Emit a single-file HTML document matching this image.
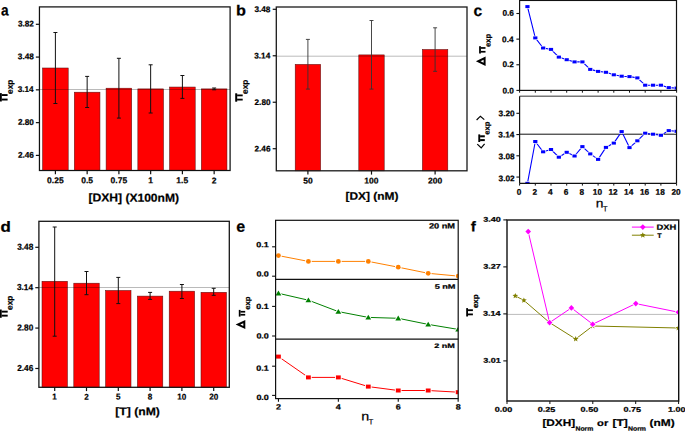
<!DOCTYPE html><html><head><meta charset="utf-8"><style>html,body{margin:0;padding:0;background:#fff;overflow:hidden}svg{display:block}text{font-kerning:none}</style></head><body>
<svg width="685" height="431" viewBox="0 0 685 431" font-family='"Liberation Sans", sans-serif'>
<rect width="685" height="431" fill="#fff"/>
<rect x="42.6" y="68" width="25.6" height="102.5" fill="#ff0000" stroke="#5a1010" stroke-width="0.55"/>
<rect x="74.35" y="92.2" width="25.6" height="78.3" fill="#ff0000" stroke="#5a1010" stroke-width="0.55"/>
<rect x="106.1" y="88.2" width="25.6" height="82.3" fill="#ff0000" stroke="#5a1010" stroke-width="0.55"/>
<rect x="137.85" y="88.9" width="25.6" height="81.6" fill="#ff0000" stroke="#5a1010" stroke-width="0.55"/>
<rect x="169.6" y="87.05" width="25.6" height="83.45" fill="#ff0000" stroke="#5a1010" stroke-width="0.55"/>
<rect x="201.35" y="88.9" width="25.6" height="81.6" fill="#ff0000" stroke="#5a1010" stroke-width="0.55"/>
<line x1="39.45" y1="89.5" x2="230.1" y2="89.5" stroke="#000" stroke-width="1.0" stroke-opacity="0.27"/>
<line x1="55.4" y1="32.5" x2="55.4" y2="103.5" stroke="#111" stroke-width="1.0" />
<line x1="53.4" y1="32.5" x2="57.4" y2="32.5" stroke="#111" stroke-width="1.0" />
<line x1="53.4" y1="103.5" x2="57.4" y2="103.5" stroke="#111" stroke-width="1.0" />
<line x1="87.15" y1="76.4" x2="87.15" y2="107.5" stroke="#111" stroke-width="1.0" />
<line x1="85.15" y1="76.4" x2="89.15" y2="76.4" stroke="#111" stroke-width="1.0" />
<line x1="85.15" y1="107.5" x2="89.15" y2="107.5" stroke="#111" stroke-width="1.0" />
<line x1="118.9" y1="58.3" x2="118.9" y2="118.1" stroke="#111" stroke-width="1.0" />
<line x1="116.9" y1="58.3" x2="120.9" y2="58.3" stroke="#111" stroke-width="1.0" />
<line x1="116.9" y1="118.1" x2="120.9" y2="118.1" stroke="#111" stroke-width="1.0" />
<line x1="150.65" y1="64.8" x2="150.65" y2="113" stroke="#111" stroke-width="1.0" />
<line x1="148.65" y1="64.8" x2="152.65" y2="64.8" stroke="#111" stroke-width="1.0" />
<line x1="148.65" y1="113" x2="152.65" y2="113" stroke="#111" stroke-width="1.0" />
<line x1="182.4" y1="75.5" x2="182.4" y2="98.4" stroke="#111" stroke-width="1.0" />
<line x1="180.4" y1="75.5" x2="184.4" y2="75.5" stroke="#111" stroke-width="1.0" />
<line x1="180.4" y1="98.4" x2="184.4" y2="98.4" stroke="#111" stroke-width="1.0" />
<line x1="214.15" y1="88" x2="214.15" y2="89.8" stroke="#111" stroke-width="1.0" />
<line x1="212.15" y1="88" x2="216.15" y2="88" stroke="#111" stroke-width="1.0" />
<line x1="212.15" y1="89.8" x2="216.15" y2="89.8" stroke="#111" stroke-width="1.0" />
<rect x="39.45" y="6.9" width="190.65" height="163.6" fill="none" stroke="#111" stroke-width="1.25"/>
<line x1="35.85" y1="24.3" x2="39.45" y2="24.3" stroke="#111" stroke-width="1.2" />
<text transform="rotate(0.15,25.862,23.700) translate(17.936,26.551) scale(0.990,1)" font-size="8.30" font-weight="bold" fill="#000" stroke="#000" stroke-width="0.22">3.82</text>
<line x1="35.85" y1="57.08" x2="39.45" y2="57.08" stroke="#111" stroke-width="1.2" />
<text transform="rotate(0.15,25.824,56.476) translate(17.860,59.327) scale(0.990,1)" font-size="8.30" font-weight="bold" fill="#000" stroke="#000" stroke-width="0.22">3.48</text>
<line x1="35.85" y1="89.85" x2="39.45" y2="89.85" stroke="#111" stroke-width="1.2" />
<text transform="rotate(0.15,25.720,89.252) translate(17.651,92.103) scale(0.990,1)" font-size="8.30" font-weight="bold" fill="#000" stroke="#000" stroke-width="0.22">3.14</text>
<line x1="35.85" y1="122.63" x2="39.45" y2="122.63" stroke="#111" stroke-width="1.2" />
<text transform="rotate(0.15,25.915,122.028) translate(17.944,124.885) scale(0.990,1)" font-size="8.30" font-weight="bold" fill="#000" stroke="#000" stroke-width="0.22">2.80</text>
<line x1="35.85" y1="155.4" x2="39.45" y2="155.4" stroke="#111" stroke-width="1.2" />
<text transform="rotate(0.15,25.895,154.804) translate(17.904,157.661) scale(0.990,1)" font-size="8.30" font-weight="bold" fill="#000" stroke="#000" stroke-width="0.22">2.46</text>
<line x1="55.4" y1="170.5" x2="55.4" y2="174.3" stroke="#111" stroke-width="1.2" />
<text transform="rotate(0.15,55.400,180.400) translate(47.065,183.360) scale(0.990,1)" font-size="8.60" font-weight="bold" fill="#000" stroke="#000" stroke-width="0.22">0.25</text>
<line x1="87.15" y1="170.5" x2="87.15" y2="174.3" stroke="#111" stroke-width="1.2" />
<text transform="rotate(0.15,87.150,180.400) translate(81.182,183.360) scale(0.990,1)" font-size="8.60" font-weight="bold" fill="#000" stroke="#000" stroke-width="0.22">0.5</text>
<line x1="118.9" y1="170.5" x2="118.9" y2="174.3" stroke="#111" stroke-width="1.2" />
<text transform="rotate(0.15,118.900,180.400) translate(110.565,183.360) scale(0.990,1)" font-size="8.60" font-weight="bold" fill="#000" stroke="#000" stroke-width="0.22">0.75</text>
<line x1="150.65" y1="170.5" x2="150.65" y2="174.3" stroke="#111" stroke-width="1.2" />
<text transform="rotate(0.15,150.650,180.400) translate(148.133,183.358) scale(0.990,1)" font-size="8.60" font-weight="bold" fill="#000" stroke="#000" stroke-width="0.22">1</text>
<line x1="182.4" y1="170.5" x2="182.4" y2="174.3" stroke="#111" stroke-width="1.2" />
<text transform="rotate(0.15,182.400,180.400) translate(176.333,183.316) scale(0.990,1)" font-size="8.60" font-weight="bold" fill="#000" stroke="#000" stroke-width="0.22">1.5</text>
<line x1="214.15" y1="170.5" x2="214.15" y2="174.3" stroke="#111" stroke-width="1.2" />
<text transform="rotate(0.15,214.150,180.400) translate(211.805,183.402) scale(0.990,1)" font-size="8.60" font-weight="bold" fill="#000" stroke="#000" stroke-width="0.22">2</text>
<text transform="rotate(0.15,133.900,198.689) translate(88.541,201.680) scale(1.044,1)" font-size="11.57" font-weight="bold" fill="#000" stroke="#000" stroke-width="0.22">[DXH] (X100nM)</text>
<text transform="rotate(0.15,5.115,11.500) translate(1.069,15.627) scale(0.875,1)" font-size="15.62" font-weight="bold" fill="#000" stroke="#000" stroke-width="0.22">a</text>
<rect x="-0.1" y="93.1" width="1.9" height="8.4" fill="#000"/>
<rect x="1.7" y="94.1" width="5.9" height="1.9" fill="#000"/>
<rect x="1.7" y="98.6" width="5.9" height="1.9" fill="#000"/>
<text transform="rotate(-0.15,11.422,86.757) translate(12.800,93.900) rotate(-90) scale(1.000,1)" font-size="8.30" font-weight="bold" fill="#000" stroke="#000" stroke-width="0.22">exp</text>
<rect x="295.2" y="64.4" width="25.4" height="106.4" fill="#ff0000" stroke="#5a1010" stroke-width="0.55"/>
<rect x="358.8" y="54.9" width="25.4" height="115.9" fill="#ff0000" stroke="#5a1010" stroke-width="0.55"/>
<rect x="422.4" y="49.5" width="25.4" height="121.3" fill="#ff0000" stroke="#5a1010" stroke-width="0.55"/>
<line x1="276.3" y1="56.2" x2="467" y2="56.2" stroke="#000" stroke-width="1.0" stroke-opacity="0.27"/>
<line x1="307.9" y1="39.4" x2="307.9" y2="89.1" stroke="#333" stroke-width="0.9" />
<line x1="305.9" y1="39.4" x2="309.9" y2="39.4" stroke="#333" stroke-width="0.9" />
<line x1="305.9" y1="89.1" x2="309.9" y2="89.1" stroke="#333" stroke-width="0.9" />
<line x1="371.5" y1="20.5" x2="371.5" y2="89.1" stroke="#333" stroke-width="0.9" />
<line x1="369.5" y1="20.5" x2="373.5" y2="20.5" stroke="#333" stroke-width="0.9" />
<line x1="369.5" y1="89.1" x2="373.5" y2="89.1" stroke="#333" stroke-width="0.9" />
<line x1="435.1" y1="27.8" x2="435.1" y2="71.3" stroke="#333" stroke-width="0.9" />
<line x1="433.1" y1="27.8" x2="437.1" y2="27.8" stroke="#333" stroke-width="0.9" />
<line x1="433.1" y1="71.3" x2="437.1" y2="71.3" stroke="#333" stroke-width="0.9" />
<rect x="276.3" y="7" width="190.7" height="163.8" fill="none" stroke="#1a1a1a" stroke-width="1.3"/>
<line x1="272.7" y1="9.3" x2="276.3" y2="9.3" stroke="#111" stroke-width="1.2" />
<text transform="rotate(0.15,262.440,9.300) translate(254.493,12.117) scale(1.000,1)" font-size="8.20" font-weight="bold" fill="#000" stroke="#000" stroke-width="0.22">3.48</text>
<line x1="272.7" y1="55.77" x2="276.3" y2="55.77" stroke="#111" stroke-width="1.2" />
<text transform="rotate(0.15,262.336,55.771) translate(254.284,58.588) scale(1.000,1)" font-size="8.20" font-weight="bold" fill="#000" stroke="#000" stroke-width="0.22">3.14</text>
<line x1="272.7" y1="102.24" x2="276.3" y2="102.24" stroke="#111" stroke-width="1.2" />
<text transform="rotate(0.15,262.531,102.242) translate(254.577,105.065) scale(1.000,1)" font-size="8.20" font-weight="bold" fill="#000" stroke="#000" stroke-width="0.22">2.80</text>
<line x1="272.7" y1="148.71" x2="276.3" y2="148.71" stroke="#111" stroke-width="1.2" />
<text transform="rotate(0.15,262.510,148.714) translate(254.537,151.536) scale(1.000,1)" font-size="8.20" font-weight="bold" fill="#000" stroke="#000" stroke-width="0.22">2.46</text>
<line x1="307.9" y1="170.8" x2="307.9" y2="174.6" stroke="#111" stroke-width="1.2" />
<text transform="rotate(0.15,307.900,180.600) translate(303.235,183.457) scale(1.020,1)" font-size="8.30" font-weight="bold" fill="#000" stroke="#000" stroke-width="0.22">50</text>
<line x1="371.5" y1="170.8" x2="371.5" y2="174.6" stroke="#111" stroke-width="1.2" />
<text transform="rotate(0.15,371.500,180.600) translate(364.344,183.457) scale(1.020,1)" font-size="8.30" font-weight="bold" fill="#000" stroke="#000" stroke-width="0.22">100</text>
<line x1="435.1" y1="170.8" x2="435.1" y2="174.6" stroke="#111" stroke-width="1.2" />
<text transform="rotate(0.15,435.100,180.600) translate(428.064,183.457) scale(1.020,1)" font-size="8.30" font-weight="bold" fill="#000" stroke="#000" stroke-width="0.22">200</text>
<text transform="rotate(0.15,372.000,196.977) translate(345.450,199.780) scale(1.101,1)" font-size="10.84" font-weight="bold" fill="#000" stroke="#000" stroke-width="0.22">[DX] (nM)</text>
<text transform="rotate(0.15,241.200,10.320) translate(236.053,15.635) scale(1.089,1)" font-size="14.87" font-weight="bold" fill="#000" stroke="#000" stroke-width="0.22">b</text>
<rect x="235.2" y="93.3" width="2" height="8.4" fill="#000"/>
<rect x="237.1" y="94.5" width="5.6" height="1.8" fill="#000"/>
<rect x="237.1" y="98.7" width="5.6" height="1.8" fill="#000"/>
<text transform="rotate(-0.15,246.430,86.800) translate(247.800,93.900) rotate(-90) scale(1.000,1)" font-size="8.25" font-weight="bold" fill="#000" stroke="#000" stroke-width="0.22">exp</text>
<clipPath id="c1"><rect x="519.6" y="0.45" width="156.9" height="89.95"/></clipPath><g clip-path="url(#c1)">
<polyline points="527.45,6.6 535.3,37.9 543.15,48 551,49.4 558.85,57.1 566.7,59.7 574.55,61.9 582.4,61.9 590.25,69.4 598.1,71.4 605.95,72.3 613.8,74.8 621.65,76.2 629.5,76.6 637.35,77.9 645.2,85.2 653.05,85.2 660.9,85.2 668.75,87.6 676.6,88.1" fill="none" stroke="#0000ff" stroke-width="1.1" stroke-linejoin="round"/>
<rect x="524.75" y="4.5" width="5.4" height="4.2" fill="#fff"/>
<rect x="532.6" y="35.8" width="5.4" height="4.2" fill="#fff"/>
<rect x="540.45" y="45.9" width="5.4" height="4.2" fill="#fff"/>
<rect x="548.3" y="47.3" width="5.4" height="4.2" fill="#fff"/>
<rect x="556.15" y="55" width="5.4" height="4.2" fill="#fff"/>
<rect x="564" y="57.6" width="5.4" height="4.2" fill="#fff"/>
<rect x="571.85" y="59.8" width="5.4" height="4.2" fill="#fff"/>
<rect x="579.7" y="59.8" width="5.4" height="4.2" fill="#fff"/>
<rect x="587.55" y="67.3" width="5.4" height="4.2" fill="#fff"/>
<rect x="595.4" y="69.3" width="5.4" height="4.2" fill="#fff"/>
<rect x="603.25" y="70.2" width="5.4" height="4.2" fill="#fff"/>
<rect x="611.1" y="72.7" width="5.4" height="4.2" fill="#fff"/>
<rect x="618.95" y="74.1" width="5.4" height="4.2" fill="#fff"/>
<rect x="626.8" y="74.5" width="5.4" height="4.2" fill="#fff"/>
<rect x="634.65" y="75.8" width="5.4" height="4.2" fill="#fff"/>
<rect x="642.5" y="83.1" width="5.4" height="4.2" fill="#fff"/>
<rect x="650.35" y="83.1" width="5.4" height="4.2" fill="#fff"/>
<rect x="658.2" y="83.1" width="5.4" height="4.2" fill="#fff"/>
<rect x="666.05" y="85.5" width="5.4" height="4.2" fill="#fff"/>
<rect x="673.9" y="86" width="5.4" height="4.2" fill="#fff"/>
<rect x="525.35" y="5.1" width="4.2" height="3" fill="#0000ff"/>
<rect x="533.2" y="36.4" width="4.2" height="3" fill="#0000ff"/>
<rect x="541.05" y="46.5" width="4.2" height="3" fill="#0000ff"/>
<rect x="548.9" y="47.9" width="4.2" height="3" fill="#0000ff"/>
<rect x="556.75" y="55.6" width="4.2" height="3" fill="#0000ff"/>
<rect x="564.6" y="58.2" width="4.2" height="3" fill="#0000ff"/>
<rect x="572.45" y="60.4" width="4.2" height="3" fill="#0000ff"/>
<rect x="580.3" y="60.4" width="4.2" height="3" fill="#0000ff"/>
<rect x="588.15" y="67.9" width="4.2" height="3" fill="#0000ff"/>
<rect x="596" y="69.9" width="4.2" height="3" fill="#0000ff"/>
<rect x="603.85" y="70.8" width="4.2" height="3" fill="#0000ff"/>
<rect x="611.7" y="73.3" width="4.2" height="3" fill="#0000ff"/>
<rect x="619.55" y="74.7" width="4.2" height="3" fill="#0000ff"/>
<rect x="627.4" y="75.1" width="4.2" height="3" fill="#0000ff"/>
<rect x="635.25" y="76.4" width="4.2" height="3" fill="#0000ff"/>
<rect x="643.1" y="83.7" width="4.2" height="3" fill="#0000ff"/>
<rect x="650.95" y="83.7" width="4.2" height="3" fill="#0000ff"/>
<rect x="658.8" y="83.7" width="4.2" height="3" fill="#0000ff"/>
<rect x="666.65" y="86.1" width="4.2" height="3" fill="#0000ff"/>
<rect x="674.5" y="86.6" width="4.2" height="3" fill="#0000ff"/>
</g>
<rect x="519.6" y="0.45" width="156.9" height="89.95" fill="none" stroke="#111" stroke-width="1.2"/>
<line x1="516.4" y1="90.4" x2="519.6" y2="90.4" stroke="#111" stroke-width="1.1" />
<text transform="rotate(0.15,508.177,90.600) translate(502.427,93.423) scale(1.010,1)" font-size="8.20" font-weight="bold" fill="#000" stroke="#000" stroke-width="0.22">0.0</text>
<line x1="516.4" y1="64.77" x2="519.6" y2="64.77" stroke="#111" stroke-width="1.1" />
<text transform="rotate(0.15,508.173,64.300) translate(502.418,67.123) scale(1.010,1)" font-size="8.20" font-weight="bold" fill="#000" stroke="#000" stroke-width="0.22">0.2</text>
<line x1="516.4" y1="39.13" x2="519.6" y2="39.13" stroke="#111" stroke-width="1.1" />
<text transform="rotate(0.15,508.029,39.400) translate(502.131,42.223) scale(1.010,1)" font-size="8.20" font-weight="bold" fill="#000" stroke="#000" stroke-width="0.22">0.4</text>
<line x1="516.4" y1="13.5" x2="519.6" y2="13.5" stroke="#111" stroke-width="1.1" />
<text transform="rotate(0.15,508.157,12.950) translate(502.386,15.773) scale(1.010,1)" font-size="8.20" font-weight="bold" fill="#000" stroke="#000" stroke-width="0.22">0.6</text>
<line x1="519.6" y1="90.4" x2="519.6" y2="92.7" stroke="#111" stroke-width="1.0" />
<line x1="535.3" y1="90.4" x2="535.3" y2="92.7" stroke="#111" stroke-width="1.0" />
<line x1="551" y1="90.4" x2="551" y2="92.7" stroke="#111" stroke-width="1.0" />
<line x1="566.7" y1="90.4" x2="566.7" y2="92.7" stroke="#111" stroke-width="1.0" />
<line x1="582.4" y1="90.4" x2="582.4" y2="92.7" stroke="#111" stroke-width="1.0" />
<line x1="598.1" y1="90.4" x2="598.1" y2="92.7" stroke="#111" stroke-width="1.0" />
<line x1="613.8" y1="90.4" x2="613.8" y2="92.7" stroke="#111" stroke-width="1.0" />
<line x1="629.5" y1="90.4" x2="629.5" y2="92.7" stroke="#111" stroke-width="1.0" />
<line x1="645.2" y1="90.4" x2="645.2" y2="92.7" stroke="#111" stroke-width="1.0" />
<line x1="660.9" y1="90.4" x2="660.9" y2="92.7" stroke="#111" stroke-width="1.0" />
<line x1="676.6" y1="90.4" x2="676.6" y2="92.7" stroke="#111" stroke-width="1.0" />
<line x1="519.6" y1="134.2" x2="676.5" y2="134.2" stroke="#111" stroke-width="1.0" />
<clipPath id="c2"><rect x="519.6" y="96.2" width="156.9" height="87.1"/></clipPath><g clip-path="url(#c2)">
<polyline points="527.45,183.3 535.3,141.5 543.15,151.8 551,149.5 558.85,157.2 566.7,152.3 574.55,156 582.4,146.6 590.25,153.9 598.1,159.4 605.95,147.4 613.8,143.1 621.65,131.6 629.5,147.6 637.35,140.8 645.2,133.2 653.05,134.2 660.9,135.3 668.75,130.6 676.6,131.3" fill="none" stroke="#0000ff" stroke-width="1.1" stroke-linejoin="round"/>
<rect x="524.75" y="181.2" width="5.4" height="4.2" fill="#fff"/>
<rect x="532.6" y="139.4" width="5.4" height="4.2" fill="#fff"/>
<rect x="540.45" y="149.7" width="5.4" height="4.2" fill="#fff"/>
<rect x="548.3" y="147.4" width="5.4" height="4.2" fill="#fff"/>
<rect x="556.15" y="155.1" width="5.4" height="4.2" fill="#fff"/>
<rect x="564" y="150.2" width="5.4" height="4.2" fill="#fff"/>
<rect x="571.85" y="153.9" width="5.4" height="4.2" fill="#fff"/>
<rect x="579.7" y="144.5" width="5.4" height="4.2" fill="#fff"/>
<rect x="587.55" y="151.8" width="5.4" height="4.2" fill="#fff"/>
<rect x="595.4" y="157.3" width="5.4" height="4.2" fill="#fff"/>
<rect x="603.25" y="145.3" width="5.4" height="4.2" fill="#fff"/>
<rect x="611.1" y="141" width="5.4" height="4.2" fill="#fff"/>
<rect x="618.95" y="129.5" width="5.4" height="4.2" fill="#fff"/>
<rect x="626.8" y="145.5" width="5.4" height="4.2" fill="#fff"/>
<rect x="634.65" y="138.7" width="5.4" height="4.2" fill="#fff"/>
<rect x="642.5" y="131.1" width="5.4" height="4.2" fill="#fff"/>
<rect x="650.35" y="132.1" width="5.4" height="4.2" fill="#fff"/>
<rect x="658.2" y="133.2" width="5.4" height="4.2" fill="#fff"/>
<rect x="666.05" y="128.5" width="5.4" height="4.2" fill="#fff"/>
<rect x="673.9" y="129.2" width="5.4" height="4.2" fill="#fff"/>
<rect x="525.35" y="181.8" width="4.2" height="3" fill="#0000ff"/>
<rect x="533.2" y="140" width="4.2" height="3" fill="#0000ff"/>
<rect x="541.05" y="150.3" width="4.2" height="3" fill="#0000ff"/>
<rect x="548.9" y="148" width="4.2" height="3" fill="#0000ff"/>
<rect x="556.75" y="155.7" width="4.2" height="3" fill="#0000ff"/>
<rect x="564.6" y="150.8" width="4.2" height="3" fill="#0000ff"/>
<rect x="572.45" y="154.5" width="4.2" height="3" fill="#0000ff"/>
<rect x="580.3" y="145.1" width="4.2" height="3" fill="#0000ff"/>
<rect x="588.15" y="152.4" width="4.2" height="3" fill="#0000ff"/>
<rect x="596" y="157.9" width="4.2" height="3" fill="#0000ff"/>
<rect x="603.85" y="145.9" width="4.2" height="3" fill="#0000ff"/>
<rect x="611.7" y="141.6" width="4.2" height="3" fill="#0000ff"/>
<rect x="619.55" y="130.1" width="4.2" height="3" fill="#0000ff"/>
<rect x="627.4" y="146.1" width="4.2" height="3" fill="#0000ff"/>
<rect x="635.25" y="139.3" width="4.2" height="3" fill="#0000ff"/>
<rect x="643.1" y="131.7" width="4.2" height="3" fill="#0000ff"/>
<rect x="650.95" y="132.7" width="4.2" height="3" fill="#0000ff"/>
<rect x="658.8" y="133.8" width="4.2" height="3" fill="#0000ff"/>
<rect x="666.65" y="129.1" width="4.2" height="3" fill="#0000ff"/>
<rect x="674.5" y="129.8" width="4.2" height="3" fill="#0000ff"/>
</g>
<line x1="519.6" y1="96.2" x2="676.5" y2="96.2" stroke="#777" stroke-width="1.5" />
<line x1="519.6" y1="183.3" x2="676.5" y2="183.3" stroke="#111" stroke-width="1.2" />
<line x1="519.6" y1="96.2" x2="519.6" y2="183.3" stroke="#111" stroke-width="1.2" />
<line x1="676.5" y1="96.2" x2="676.5" y2="183.3" stroke="#111" stroke-width="1.2" />
<line x1="516.4" y1="113.3" x2="519.6" y2="113.3" stroke="#111" stroke-width="1.1" />
<text transform="rotate(0.15,506.605,113.500) translate(498.621,116.317) scale(1.010,1)" font-size="8.20" font-weight="bold" fill="#000" stroke="#000" stroke-width="0.22">3.20</text>
<line x1="516.4" y1="134.55" x2="519.6" y2="134.55" stroke="#111" stroke-width="1.1" />
<text transform="rotate(0.15,506.458,134.750) translate(498.325,137.567) scale(1.010,1)" font-size="8.20" font-weight="bold" fill="#000" stroke="#000" stroke-width="0.22">3.14</text>
<line x1="516.4" y1="155.8" x2="519.6" y2="155.8" stroke="#111" stroke-width="1.1" />
<text transform="rotate(0.15,506.563,156.400) translate(498.536,159.217) scale(1.010,1)" font-size="8.20" font-weight="bold" fill="#000" stroke="#000" stroke-width="0.22">3.08</text>
<line x1="516.4" y1="177.06" x2="519.6" y2="177.06" stroke="#111" stroke-width="1.1" />
<text transform="rotate(0.15,506.601,178.500) translate(498.612,181.317) scale(1.010,1)" font-size="8.20" font-weight="bold" fill="#000" stroke="#000" stroke-width="0.22">3.02</text>
<line x1="519.6" y1="183.3" x2="519.6" y2="185.6" stroke="#111" stroke-width="1.0" />
<text transform="rotate(0.15,519.000,191.950) translate(516.703,194.773) scale(1.010,1)" font-size="8.20" font-weight="bold" fill="#000" stroke="#000" stroke-width="0.22">0</text>
<line x1="535.3" y1="183.3" x2="535.3" y2="185.6" stroke="#111" stroke-width="1.0" />
<text transform="rotate(0.15,534.700,191.950) translate(532.419,194.813) scale(1.010,1)" font-size="8.20" font-weight="bold" fill="#000" stroke="#000" stroke-width="0.22">2</text>
<line x1="551" y1="183.3" x2="551" y2="185.6" stroke="#111" stroke-width="1.0" />
<text transform="rotate(0.15,550.400,191.950) translate(548.057,194.771) scale(1.010,1)" font-size="8.20" font-weight="bold" fill="#000" stroke="#000" stroke-width="0.22">4</text>
<line x1="566.7" y1="183.3" x2="566.7" y2="185.6" stroke="#111" stroke-width="1.0" />
<text transform="rotate(0.15,566.100,191.950) translate(563.795,194.773) scale(1.010,1)" font-size="8.20" font-weight="bold" fill="#000" stroke="#000" stroke-width="0.22">6</text>
<line x1="582.4" y1="183.3" x2="582.4" y2="185.6" stroke="#111" stroke-width="1.0" />
<text transform="rotate(0.15,581.800,191.950) translate(579.493,194.773) scale(1.010,1)" font-size="8.20" font-weight="bold" fill="#000" stroke="#000" stroke-width="0.22">8</text>
<line x1="598.1" y1="183.3" x2="598.1" y2="185.6" stroke="#111" stroke-width="1.0" />
<text transform="rotate(0.15,597.500,191.950) translate(592.803,194.773) scale(1.010,1)" font-size="8.20" font-weight="bold" fill="#000" stroke="#000" stroke-width="0.22">10</text>
<line x1="613.8" y1="183.3" x2="613.8" y2="185.6" stroke="#111" stroke-width="1.0" />
<text transform="rotate(0.15,613.200,191.950) translate(608.499,194.813) scale(1.010,1)" font-size="8.20" font-weight="bold" fill="#000" stroke="#000" stroke-width="0.22">12</text>
<line x1="629.5" y1="183.3" x2="629.5" y2="185.6" stroke="#111" stroke-width="1.0" />
<text transform="rotate(0.15,628.900,191.950) translate(624.055,194.771) scale(1.010,1)" font-size="8.20" font-weight="bold" fill="#000" stroke="#000" stroke-width="0.22">14</text>
<line x1="645.2" y1="183.3" x2="645.2" y2="185.6" stroke="#111" stroke-width="1.0" />
<text transform="rotate(0.15,644.600,191.950) translate(639.883,194.773) scale(1.010,1)" font-size="8.20" font-weight="bold" fill="#000" stroke="#000" stroke-width="0.22">16</text>
<line x1="660.9" y1="183.3" x2="660.9" y2="185.6" stroke="#111" stroke-width="1.0" />
<text transform="rotate(0.15,660.300,191.950) translate(655.560,194.773) scale(1.010,1)" font-size="8.20" font-weight="bold" fill="#000" stroke="#000" stroke-width="0.22">18</text>
<line x1="676.6" y1="183.3" x2="676.6" y2="185.6" stroke="#111" stroke-width="1.0" />
<text transform="rotate(0.15,676.000,191.950) translate(671.420,194.773) scale(1.010,1)" font-size="8.20" font-weight="bold" fill="#000" stroke="#000" stroke-width="0.22">20</text>
<text transform="rotate(0.15,599.650,204.200) translate(595.804,207.580) scale(1.098,1)" font-size="12.56" font-weight="normal" fill="#000" stroke="#000" stroke-width="0.22">n</text>
<text transform="rotate(0.15,605.300,208.900) translate(603.055,211.580) scale(0.944,1)" font-size="7.79" font-weight="normal" fill="#000" stroke="#000" stroke-width="0.22">T</text>
<text transform="rotate(0.15,478.050,11.800) translate(473.607,16.024) scale(0.982,1)" font-size="15.99" font-weight="bold" fill="#000" stroke="#000" stroke-width="0.22">c</text>
<path d="M475.9,61.3 L485.6,56.6 L485.6,66 Z M480.49,61.3 L483.6,59.79 L483.6,62.81 Z" fill="#000" fill-rule="evenodd"/>
<rect x="479.1" y="46.2" width="1.8" height="7.3" fill="#000"/>
<rect x="480.8" y="47.1" width="4.7" height="1.7" fill="#000"/>
<rect x="480.8" y="50.9" width="4.7" height="1.7" fill="#000"/>
<text transform="rotate(-0.15,489.238,40.359) translate(490.500,46.900) rotate(-90) scale(1.000,1)" font-size="7.60" font-weight="bold" fill="#000" stroke="#000" stroke-width="0.22">exp</text>
<rect x="478.3" y="134.4" width="1.9" height="7.6" fill="#000"/>
<rect x="480.1" y="135.3" width="4.7" height="2" fill="#000"/>
<rect x="480.1" y="139.1" width="4.7" height="2" fill="#000"/>
<text transform="rotate(-0.15,488.338,128.259) translate(489.600,134.800) rotate(-90) scale(1.000,1)" font-size="7.60" font-weight="bold" fill="#000" stroke="#000" stroke-width="0.22">exp</text>
<polyline points="476.6,120.0 480.4,116.2 484.3,119.6" fill="none" stroke="#000" stroke-width="1.2"/>
<polyline points="477.3,144.1 481.2,147.9 484.6,143.8" fill="none" stroke="#000" stroke-width="1.2"/>
<rect x="42" y="281.3" width="25.4" height="106" fill="#ff0000" stroke="#5a1010" stroke-width="0.55"/>
<rect x="73.8" y="283.2" width="25.4" height="104.1" fill="#ff0000" stroke="#5a1010" stroke-width="0.55"/>
<rect x="105.6" y="290.5" width="25.4" height="96.8" fill="#ff0000" stroke="#5a1010" stroke-width="0.55"/>
<rect x="137.4" y="296.1" width="25.4" height="91.2" fill="#ff0000" stroke="#5a1010" stroke-width="0.55"/>
<rect x="169.2" y="291.2" width="25.4" height="96.1" fill="#ff0000" stroke="#5a1010" stroke-width="0.55"/>
<rect x="201" y="292.3" width="25.4" height="95" fill="#ff0000" stroke="#5a1010" stroke-width="0.55"/>
<line x1="38.9" y1="287.5" x2="229.3" y2="287.5" stroke="#000" stroke-width="1.0" stroke-opacity="0.27"/>
<line x1="54.7" y1="227" x2="54.7" y2="336.2" stroke="#111" stroke-width="1.0" />
<line x1="52.7" y1="227" x2="56.7" y2="227" stroke="#111" stroke-width="1.0" />
<line x1="52.7" y1="336.2" x2="56.7" y2="336.2" stroke="#111" stroke-width="1.0" />
<line x1="86.5" y1="271.5" x2="86.5" y2="294.7" stroke="#111" stroke-width="1.0" />
<line x1="84.5" y1="271.5" x2="88.5" y2="271.5" stroke="#111" stroke-width="1.0" />
<line x1="84.5" y1="294.7" x2="88.5" y2="294.7" stroke="#111" stroke-width="1.0" />
<line x1="118.3" y1="277.4" x2="118.3" y2="303.6" stroke="#111" stroke-width="1.0" />
<line x1="116.3" y1="277.4" x2="120.3" y2="277.4" stroke="#111" stroke-width="1.0" />
<line x1="116.3" y1="303.6" x2="120.3" y2="303.6" stroke="#111" stroke-width="1.0" />
<line x1="150.1" y1="292.4" x2="150.1" y2="299.4" stroke="#111" stroke-width="1.0" />
<line x1="148.1" y1="292.4" x2="152.1" y2="292.4" stroke="#111" stroke-width="1.0" />
<line x1="148.1" y1="299.4" x2="152.1" y2="299.4" stroke="#111" stroke-width="1.0" />
<line x1="181.9" y1="284.5" x2="181.9" y2="298.5" stroke="#111" stroke-width="1.0" />
<line x1="179.9" y1="284.5" x2="183.9" y2="284.5" stroke="#111" stroke-width="1.0" />
<line x1="179.9" y1="298.5" x2="183.9" y2="298.5" stroke="#111" stroke-width="1.0" />
<line x1="213.7" y1="288.3" x2="213.7" y2="295.3" stroke="#111" stroke-width="1.0" />
<line x1="211.7" y1="288.3" x2="215.7" y2="288.3" stroke="#111" stroke-width="1.0" />
<line x1="211.7" y1="295.3" x2="215.7" y2="295.3" stroke="#111" stroke-width="1.0" />
<rect x="38.9" y="221.3" width="190.4" height="166" fill="none" stroke="#151515" stroke-width="1.3"/>
<line x1="35.3" y1="247.3" x2="38.9" y2="247.3" stroke="#111" stroke-width="1.2" />
<text transform="rotate(0.15,25.179,246.750) translate(17.168,249.739) scale(0.950,1)" font-size="8.70" font-weight="bold" fill="#000" stroke="#000" stroke-width="0.22">3.48</text>
<line x1="35.3" y1="287.69" x2="38.9" y2="287.69" stroke="#111" stroke-width="1.2" />
<text transform="rotate(0.15,25.074,287.142) translate(16.958,290.131) scale(0.950,1)" font-size="8.70" font-weight="bold" fill="#000" stroke="#000" stroke-width="0.22">3.14</text>
<line x1="35.3" y1="328.08" x2="38.9" y2="328.08" stroke="#111" stroke-width="1.2" />
<text transform="rotate(0.15,25.270,327.534) translate(17.253,330.529) scale(0.950,1)" font-size="8.70" font-weight="bold" fill="#000" stroke="#000" stroke-width="0.22">2.80</text>
<line x1="35.3" y1="368.48" x2="38.9" y2="368.48" stroke="#111" stroke-width="1.2" />
<text transform="rotate(0.15,25.250,367.926) translate(17.213,370.921) scale(0.950,1)" font-size="8.70" font-weight="bold" fill="#000" stroke="#000" stroke-width="0.22">2.46</text>
<line x1="54.7" y1="387.3" x2="54.7" y2="391.1" stroke="#111" stroke-width="1.2" />
<text transform="rotate(0.15,54.700,396.700) translate(52.313,399.624) scale(0.950,1)" font-size="8.50" font-weight="bold" fill="#000" stroke="#000" stroke-width="0.22">1</text>
<line x1="86.5" y1="387.3" x2="86.5" y2="391.1" stroke="#111" stroke-width="1.2" />
<text transform="rotate(0.15,86.500,396.700) translate(84.276,399.668) scale(0.950,1)" font-size="8.50" font-weight="bold" fill="#000" stroke="#000" stroke-width="0.22">2</text>
<line x1="118.3" y1="387.3" x2="118.3" y2="391.1" stroke="#111" stroke-width="1.2" />
<text transform="rotate(0.15,118.300,396.700) translate(116.043,399.582) scale(0.950,1)" font-size="8.50" font-weight="bold" fill="#000" stroke="#000" stroke-width="0.22">5</text>
<line x1="150.1" y1="387.3" x2="150.1" y2="391.1" stroke="#111" stroke-width="1.2" />
<text transform="rotate(0.15,150.100,396.700) translate(147.851,399.626) scale(0.950,1)" font-size="8.50" font-weight="bold" fill="#000" stroke="#000" stroke-width="0.22">8</text>
<line x1="181.9" y1="387.3" x2="181.9" y2="391.1" stroke="#111" stroke-width="1.2" />
<text transform="rotate(0.15,181.900,396.700) translate(177.320,399.626) scale(0.950,1)" font-size="8.50" font-weight="bold" fill="#000" stroke="#000" stroke-width="0.22">10</text>
<line x1="213.7" y1="387.3" x2="213.7" y2="391.1" stroke="#111" stroke-width="1.2" />
<text transform="rotate(0.15,213.700,396.700) translate(209.235,399.626) scale(0.950,1)" font-size="8.50" font-weight="bold" fill="#000" stroke="#000" stroke-width="0.22">20</text>
<text transform="rotate(0.15,137.600,412.401) translate(115.236,415.280) scale(1.094,1)" font-size="11.13" font-weight="bold" fill="#000" stroke="#000" stroke-width="0.22">[T] (nM)</text>
<text transform="rotate(0.15,5.520,226.550) translate(0.567,231.836) scale(1.143,1)" font-size="14.79" font-weight="bold" fill="#000" stroke="#000" stroke-width="0.22">d</text>
<rect x="-0.2" y="309.5" width="1.9" height="8.3" fill="#000"/>
<rect x="1.6" y="310.7" width="6.1" height="1.9" fill="#000"/>
<rect x="1.6" y="314.7" width="6.1" height="1.9" fill="#000"/>
<text transform="rotate(-0.15,11.172,302.757) translate(12.550,309.900) rotate(-90) scale(1.000,1)" font-size="8.30" font-weight="bold" fill="#000" stroke="#000" stroke-width="0.22">exp</text>
<clipPath id="c3"><rect x="275.6" y="220.3" width="182.6" height="59.1"/></clipPath><g clip-path="url(#c3)">
<polyline points="278.45,255.6 308.4,261.4 338.35,261.4 368.3,261.4 398.25,267.2 428.2,273.3 458.15,276.1" fill="none" stroke="#ff8000" stroke-width="1.0" stroke-linejoin="round"/>
<circle cx="278.45" cy="255.6" r="3.3" fill="#fff"/>
<circle cx="308.4" cy="261.4" r="3.3" fill="#fff"/>
<circle cx="338.35" cy="261.4" r="3.3" fill="#fff"/>
<circle cx="368.3" cy="261.4" r="3.3" fill="#fff"/>
<circle cx="398.25" cy="267.2" r="3.3" fill="#fff"/>
<circle cx="428.2" cy="273.3" r="3.3" fill="#fff"/>
<circle cx="458.15" cy="276.1" r="3.3" fill="#fff"/>
<circle cx="278.45" cy="255.6" r="2.4" fill="#ff8000"/>
<circle cx="308.4" cy="261.4" r="2.4" fill="#ff8000"/>
<circle cx="338.35" cy="261.4" r="2.4" fill="#ff8000"/>
<circle cx="368.3" cy="261.4" r="2.4" fill="#ff8000"/>
<circle cx="398.25" cy="267.2" r="2.4" fill="#ff8000"/>
<circle cx="428.2" cy="273.3" r="2.4" fill="#ff8000"/>
<circle cx="458.15" cy="276.1" r="2.4" fill="#ff8000"/>
</g>
<line x1="272.1" y1="246.8" x2="275.6" y2="246.8" stroke="#111" stroke-width="1.1" />
<line x1="272.1" y1="276.2" x2="275.6" y2="276.2" stroke="#111" stroke-width="1.1" />
<text transform="rotate(0.15,262.569,244.550) translate(256.283,247.166) scale(1.180,1)" font-size="7.60" font-weight="bold" fill="#000" stroke="#000" stroke-width="0.22">0.1</text>
<text transform="rotate(0.15,262.628,273.950) translate(256.401,276.566) scale(1.180,1)" font-size="7.60" font-weight="bold" fill="#000" stroke="#000" stroke-width="0.22">0.0</text>
<text transform="rotate(0.15,441.850,225.900) translate(428.900,228.506) scale(1.221,1)" font-size="7.57" font-weight="bold" fill="#000" stroke="#000" stroke-width="0.22">20 nM</text>
<clipPath id="c4"><rect x="275.6" y="279.4" width="182.6" height="59.7"/></clipPath><g clip-path="url(#c4)">
<polyline points="278.45,293.3 308.4,300.2 338.35,311.6 368.3,317.4 398.25,318.3 428.2,324.4 458.15,329.4" fill="none" stroke="#008000" stroke-width="1.0" stroke-linejoin="round"/>
<polygon points="274.02,296.3 282.88,296.3 278.45,288.8" fill="#fff"/>
<polygon points="303.97,303.2 312.83,303.2 308.4,295.7" fill="#fff"/>
<polygon points="333.92,314.6 342.78,314.6 338.35,307.1" fill="#fff"/>
<polygon points="363.87,320.4 372.73,320.4 368.3,312.9" fill="#fff"/>
<polygon points="393.82,321.3 402.68,321.3 398.25,313.8" fill="#fff"/>
<polygon points="423.77,327.4 432.63,327.4 428.2,319.9" fill="#fff"/>
<polygon points="453.72,332.4 462.58,332.4 458.15,324.9" fill="#fff"/>
<polygon points="275.55,295.4 281.35,295.4 278.45,290.6" fill="#008000"/>
<polygon points="305.5,302.3 311.3,302.3 308.4,297.5" fill="#008000"/>
<polygon points="335.45,313.7 341.25,313.7 338.35,308.9" fill="#008000"/>
<polygon points="365.4,319.5 371.2,319.5 368.3,314.7" fill="#008000"/>
<polygon points="395.35,320.4 401.15,320.4 398.25,315.6" fill="#008000"/>
<polygon points="425.3,326.5 431.1,326.5 428.2,321.7" fill="#008000"/>
<polygon points="455.25,331.5 461.05,331.5 458.15,326.7" fill="#008000"/>
</g>
<line x1="272.1" y1="306.4" x2="275.6" y2="306.4" stroke="#111" stroke-width="1.1" />
<line x1="272.1" y1="336" x2="275.6" y2="336" stroke="#111" stroke-width="1.1" />
<text transform="rotate(0.15,262.569,306.400) translate(256.283,309.016) scale(1.180,1)" font-size="7.60" font-weight="bold" fill="#000" stroke="#000" stroke-width="0.22">0.1</text>
<text transform="rotate(0.15,262.628,336.000) translate(256.401,338.616) scale(1.180,1)" font-size="7.60" font-weight="bold" fill="#000" stroke="#000" stroke-width="0.22">0.0</text>
<text transform="rotate(0.15,444.900,286.484) translate(434.638,288.716) scale(1.391,1)" font-size="6.58" font-weight="bold" fill="#000" stroke="#000" stroke-width="0.22">5 nM</text>
<clipPath id="c5"><rect x="275.6" y="339.1" width="182.6" height="59.5"/></clipPath><g clip-path="url(#c5)">
<polyline points="278.45,356.6 308.4,377.4 338.35,377.4 368.3,386.6 398.25,390.5 428.2,390.5 458.15,392.2" fill="none" stroke="#ff0000" stroke-width="1.0" stroke-linejoin="round"/>
<rect x="275.15" y="353.7" width="6.6" height="5.8" fill="#fff"/>
<rect x="305.1" y="374.5" width="6.6" height="5.8" fill="#fff"/>
<rect x="335.05" y="374.5" width="6.6" height="5.8" fill="#fff"/>
<rect x="365" y="383.7" width="6.6" height="5.8" fill="#fff"/>
<rect x="394.95" y="387.6" width="6.6" height="5.8" fill="#fff"/>
<rect x="424.9" y="387.6" width="6.6" height="5.8" fill="#fff"/>
<rect x="454.85" y="389.3" width="6.6" height="5.8" fill="#fff"/>
<rect x="276.05" y="354.6" width="4.8" height="4" fill="#ff0000"/>
<rect x="306" y="375.4" width="4.8" height="4" fill="#ff0000"/>
<rect x="335.95" y="375.4" width="4.8" height="4" fill="#ff0000"/>
<rect x="365.9" y="384.6" width="4.8" height="4" fill="#ff0000"/>
<rect x="395.85" y="388.5" width="4.8" height="4" fill="#ff0000"/>
<rect x="425.8" y="388.5" width="4.8" height="4" fill="#ff0000"/>
<rect x="455.75" y="390.2" width="4.8" height="4" fill="#ff0000"/>
</g>
<line x1="272.1" y1="366.2" x2="275.6" y2="366.2" stroke="#111" stroke-width="1.1" />
<line x1="272.1" y1="395.4" x2="275.6" y2="395.4" stroke="#111" stroke-width="1.1" />
<text transform="rotate(0.15,262.569,368.100) translate(256.283,370.716) scale(1.180,1)" font-size="7.60" font-weight="bold" fill="#000" stroke="#000" stroke-width="0.22">0.1</text>
<text transform="rotate(0.15,262.628,397.300) translate(256.401,399.916) scale(1.180,1)" font-size="7.60" font-weight="bold" fill="#000" stroke="#000" stroke-width="0.22">0.0</text>
<text transform="rotate(0.15,444.400,345.769) translate(434.205,348.017) scale(1.410,1)" font-size="6.44" font-weight="bold" fill="#000" stroke="#000" stroke-width="0.22">2 nM</text>
<rect x="275.6" y="220.3" width="182.6" height="178.3" fill="none" stroke="#111" stroke-width="1.2"/>
<line x1="275.6" y1="279.4" x2="458.2" y2="279.4" stroke="#111" stroke-width="1.2" />
<line x1="275.6" y1="339.1" x2="458.2" y2="339.1" stroke="#111" stroke-width="1.2" />
<line x1="278.45" y1="398.6" x2="278.45" y2="401.7" stroke="#111" stroke-width="1.1" />
<text transform="rotate(0.15,278.450,406.950) translate(275.980,409.603) scale(1.180,1)" font-size="7.60" font-weight="bold" fill="#000" stroke="#000" stroke-width="0.22">2</text>
<line x1="338.35" y1="398.6" x2="338.35" y2="401.7" stroke="#111" stroke-width="1.1" />
<text transform="rotate(0.15,338.350,406.950) translate(335.812,409.564) scale(1.180,1)" font-size="7.60" font-weight="bold" fill="#000" stroke="#000" stroke-width="0.22">4</text>
<line x1="398.25" y1="398.6" x2="398.25" y2="401.7" stroke="#111" stroke-width="1.1" />
<text transform="rotate(0.15,398.250,406.950) translate(395.754,409.566) scale(1.180,1)" font-size="7.60" font-weight="bold" fill="#000" stroke="#000" stroke-width="0.22">6</text>
<line x1="458.15" y1="398.6" x2="458.15" y2="401.7" stroke="#111" stroke-width="1.1" />
<text transform="rotate(0.15,458.150,406.950) translate(455.652,409.566) scale(1.180,1)" font-size="7.60" font-weight="bold" fill="#000" stroke="#000" stroke-width="0.22">8</text>
<text transform="rotate(0.15,365.250,417.200) translate(361.273,420.580) scale(1.136,1)" font-size="12.56" font-weight="normal" fill="#000" stroke="#000" stroke-width="0.22">n</text>
<text transform="rotate(0.15,371.100,421.800) translate(368.855,424.480) scale(0.944,1)" font-size="7.79" font-weight="normal" fill="#000" stroke="#000" stroke-width="0.22">T</text>
<text transform="rotate(0.15,240.700,227.700) translate(236.192,231.827) scale(1.028,1)" font-size="15.62" font-weight="bold" fill="#000" stroke="#000" stroke-width="0.22">e</text>
<path d="M235.6,324.55 L245.3,320 L245.3,329.1 Z M240.31,324.55 L243.3,323.15 L243.3,325.95 Z" fill="#000" fill-rule="evenodd"/>
<rect x="238.8" y="309.9" width="1.7" height="6.7" fill="#000"/>
<rect x="240.4" y="310.9" width="4.8" height="1.7" fill="#000"/>
<rect x="240.4" y="313.9" width="4.8" height="1.7" fill="#000"/>
<text transform="rotate(-0.15,248.755,303.266) translate(250.000,309.850) rotate(-90) scale(1.020,1)" font-size="7.50" font-weight="bold" fill="#000" stroke="#000" stroke-width="0.22">exp</text>
<line x1="507" y1="314.4" x2="678.7" y2="314.4" stroke="#000" stroke-width="1.0" stroke-opacity="0.27"/>
<clipPath id="c6"><rect x="507" y="220" width="171.7" height="181"/></clipPath><g clip-path="url(#c6)">
<polyline points="515.3,295.9 523.9,300.4 549.6,322.6 575.7,339 592.7,326 678.3,328" fill="none" stroke="#808000" stroke-width="1.0" stroke-linejoin="round"/>
<polygon points="515.3,291.78 516.39,294.4 519.22,294.63 517.06,296.47 517.72,299.23 515.3,297.75 512.88,299.23 513.54,296.47 511.38,294.63 514.21,294.4" fill="#fff"/>
<polygon points="523.9,296.28 524.99,298.9 527.82,299.13 525.66,300.97 526.32,303.73 523.9,302.25 521.48,303.73 522.14,300.97 519.98,299.13 522.81,298.9" fill="#fff"/>
<polygon points="549.6,318.48 550.69,321.1 553.52,321.33 551.36,323.17 552.02,325.93 549.6,324.45 547.18,325.93 547.84,323.17 545.68,321.33 548.51,321.1" fill="#fff"/>
<polygon points="575.7,334.88 576.79,337.5 579.62,337.73 577.46,339.57 578.12,342.33 575.7,340.85 573.28,342.33 573.94,339.57 571.78,337.73 574.61,337.5" fill="#fff"/>
<polygon points="592.7,321.88 593.79,324.5 596.62,324.73 594.46,326.57 595.12,329.33 592.7,327.85 590.28,329.33 590.94,326.57 588.78,324.73 591.61,324.5" fill="#fff"/>
<polygon points="678.3,323.88 679.39,326.5 682.22,326.73 680.06,328.57 680.72,331.33 678.3,329.85 675.88,331.33 676.54,328.57 674.38,326.73 677.21,326.5" fill="#fff"/>
<polygon points="515.3,292.9 516.09,294.81 518.15,294.97 516.58,296.32 517.06,298.33 515.3,297.25 513.54,298.33 514.02,296.32 512.45,294.97 514.51,294.81" fill="#808000"/>
<polygon points="523.9,297.4 524.69,299.31 526.75,299.47 525.18,300.82 525.66,302.83 523.9,301.75 522.14,302.83 522.62,300.82 521.05,299.47 523.11,299.31" fill="#808000"/>
<polygon points="549.6,319.6 550.39,321.51 552.45,321.67 550.88,323.02 551.36,325.03 549.6,323.95 547.84,325.03 548.32,323.02 546.75,321.67 548.81,321.51" fill="#808000"/>
<polygon points="575.7,336 576.49,337.91 578.55,338.07 576.98,339.42 577.46,341.43 575.7,340.35 573.94,341.43 574.42,339.42 572.85,338.07 574.91,337.91" fill="#808000"/>
<polygon points="592.7,323 593.49,324.91 595.55,325.07 593.98,326.42 594.46,328.43 592.7,327.35 590.94,328.43 591.42,326.42 589.85,325.07 591.91,324.91" fill="#808000"/>
<polygon points="678.3,325 679.09,326.91 681.15,327.07 679.58,328.42 680.06,330.43 678.3,329.35 676.54,330.43 677.02,328.42 675.45,327.07 677.51,326.91" fill="#808000"/>
<polyline points="528.2,231.6 549.6,322.6 571.4,307.9 592.7,324.2 635.8,303.6 678.3,312.2" fill="none" stroke="#ff00ff" stroke-width="1.0" stroke-linejoin="round"/>
<polygon points="524.42,231.6 528.2,227.82 531.98,231.6 528.2,235.38" fill="#fff"/>
<polygon points="545.82,322.6 549.6,318.82 553.38,322.6 549.6,326.38" fill="#fff"/>
<polygon points="567.62,307.9 571.4,304.12 575.18,307.9 571.4,311.68" fill="#fff"/>
<polygon points="588.92,324.2 592.7,320.42 596.48,324.2 592.7,327.98" fill="#fff"/>
<polygon points="632.02,303.6 635.8,299.82 639.58,303.6 635.8,307.38" fill="#fff"/>
<polygon points="674.52,312.2 678.3,308.42 682.08,312.2 678.3,315.98" fill="#fff"/>
<polygon points="525.4,231.6 528.2,228.8 531,231.6 528.2,234.4" fill="#ff00ff"/>
<polygon points="546.8,322.6 549.6,319.8 552.4,322.6 549.6,325.4" fill="#ff00ff"/>
<polygon points="568.6,307.9 571.4,305.1 574.2,307.9 571.4,310.7" fill="#ff00ff"/>
<polygon points="589.9,324.2 592.7,321.4 595.5,324.2 592.7,327" fill="#ff00ff"/>
<polygon points="633,303.6 635.8,300.8 638.6,303.6 635.8,306.4" fill="#ff00ff"/>
<polygon points="675.5,312.2 678.3,309.4 681.1,312.2 678.3,315" fill="#ff00ff"/>
</g>
<rect x="507" y="220" width="171.7" height="181" fill="none" stroke="#111" stroke-width="1.4"/>
<line x1="503.3" y1="219.9" x2="507" y2="219.9" stroke="#111" stroke-width="1.1" />
<text transform="rotate(0.15,491.993,219.450) translate(483.278,221.820) scale(1.310,1)" font-size="6.90" font-weight="bold" fill="#000" stroke="#000" stroke-width="0.22">3.40</text>
<line x1="503.3" y1="266.89" x2="507" y2="266.89" stroke="#111" stroke-width="1.1" />
<text transform="rotate(0.15,492.006,266.445) translate(483.305,268.815) scale(1.310,1)" font-size="6.90" font-weight="bold" fill="#000" stroke="#000" stroke-width="0.22">3.27</text>
<line x1="503.3" y1="313.89" x2="507" y2="313.89" stroke="#111" stroke-width="1.1" />
<text transform="rotate(0.15,491.832,313.440) translate(482.956,315.810) scale(1.310,1)" font-size="6.90" font-weight="bold" fill="#000" stroke="#000" stroke-width="0.22">3.14</text>
<line x1="503.3" y1="360.89" x2="507" y2="360.89" stroke="#111" stroke-width="1.1" />
<text transform="rotate(0.15,491.933,360.435) translate(483.159,362.805) scale(1.310,1)" font-size="6.90" font-weight="bold" fill="#000" stroke="#000" stroke-width="0.22">3.01</text>
<line x1="507" y1="401" x2="507" y2="404" stroke="#111" stroke-width="1.0" />
<text transform="rotate(0.15,503.600,409.500) translate(494.810,411.875) scale(1.310,1)" font-size="6.90" font-weight="bold" fill="#000" stroke="#000" stroke-width="0.22">0.00</text>
<line x1="549.9" y1="401" x2="549.9" y2="404" stroke="#111" stroke-width="1.0" />
<text transform="rotate(0.15,546.500,409.500) translate(537.651,411.875) scale(1.310,1)" font-size="6.90" font-weight="bold" fill="#000" stroke="#000" stroke-width="0.22">0.25</text>
<line x1="592.8" y1="401" x2="592.8" y2="404" stroke="#111" stroke-width="1.0" />
<text transform="rotate(0.15,589.400,409.500) translate(580.610,411.875) scale(1.310,1)" font-size="6.90" font-weight="bold" fill="#000" stroke="#000" stroke-width="0.22">0.50</text>
<line x1="635.7" y1="401" x2="635.7" y2="404" stroke="#111" stroke-width="1.0" />
<text transform="rotate(0.15,632.300,409.500) translate(623.451,411.875) scale(1.310,1)" font-size="6.90" font-weight="bold" fill="#000" stroke="#000" stroke-width="0.22">0.75</text>
<line x1="678.6" y1="401" x2="678.6" y2="404" stroke="#111" stroke-width="1.0" />
<text transform="rotate(0.15,676.800,409.500) translate(667.904,411.875) scale(1.310,1)" font-size="6.90" font-weight="bold" fill="#000" stroke="#000" stroke-width="0.22">1.00</text>
<line x1="631.9" y1="227.1" x2="653.7" y2="227.1" stroke="#ff00ff" stroke-width="1.0" />
<polygon points="640,227.1 642.8,224.3 645.6,227.1 642.8,229.9" fill="#ff00ff"/>
<line x1="631.9" y1="235.2" x2="653.7" y2="235.2" stroke="#808000" stroke-width="1.0" />
<polygon points="642.8,232.2 643.59,234.11 645.65,234.27 644.08,235.62 644.56,237.63 642.8,236.55 641.04,237.63 641.52,235.62 639.95,234.27 642.01,234.11" fill="#808000"/>
<text transform="rotate(0.15,666.500,227.050) translate(656.592,229.680) scale(1.228,1)" font-size="7.65" font-weight="bold" fill="#000" stroke="#000" stroke-width="0.22">DXH</text>
<text transform="rotate(0.15,659.350,235.600) translate(657.139,237.980) scale(1.046,1)" font-size="6.92" font-weight="bold" fill="#000" stroke="#000" stroke-width="0.22">T</text>
<text transform="rotate(0.15,473.550,226.350) translate(470.859,231.580) scale(1.059,1)" font-size="14.44" font-weight="bold" fill="#000" stroke="#000" stroke-width="0.22">f</text>
<rect x="466.2" y="308.1" width="1.8" height="8.4" fill="#000"/>
<rect x="467.9" y="309.3" width="5" height="1.8" fill="#000"/>
<rect x="467.9" y="313.5" width="5" height="1.8" fill="#000"/>
<text transform="rotate(-0.15,476.655,301.194) translate(477.900,308.100) rotate(-90) scale(1.070,1)" font-size="7.50" font-weight="bold" fill="#000" stroke="#000" stroke-width="0.22">exp</text>
<text transform="rotate(0.15,558.800,423.477) translate(542.459,425.980) scale(1.216,1)" font-size="9.68" font-weight="bold" fill="#000" stroke="#000" stroke-width="0.22">[DXH]</text>
<text transform="rotate(0.15,584.400,428.631) translate(575.463,430.780) scale(1.078,1)" font-size="6.34" font-weight="bold" fill="#000" stroke="#000" stroke-width="0.22">Norm</text>
<text transform="rotate(0.15,602.800,423.548) translate(597.084,425.893) scale(1.259,1)" font-size="8.87" font-weight="bold" fill="#000" stroke="#000" stroke-width="0.22">or</text>
<text transform="rotate(0.15,620.200,423.477) translate(612.547,425.980) scale(1.238,1)" font-size="9.68" font-weight="bold" fill="#000" stroke="#000" stroke-width="0.22">[T]</text>
<text transform="rotate(0.15,637.000,428.631) translate(627.958,430.780) scale(1.091,1)" font-size="6.34" font-weight="bold" fill="#000" stroke="#000" stroke-width="0.22">Norm</text>
<text transform="rotate(0.15,662.200,423.477) translate(649.626,425.980) scale(1.231,1)" font-size="9.68" font-weight="bold" fill="#000" stroke="#000" stroke-width="0.22">(nM)</text>
</svg></body></html>
